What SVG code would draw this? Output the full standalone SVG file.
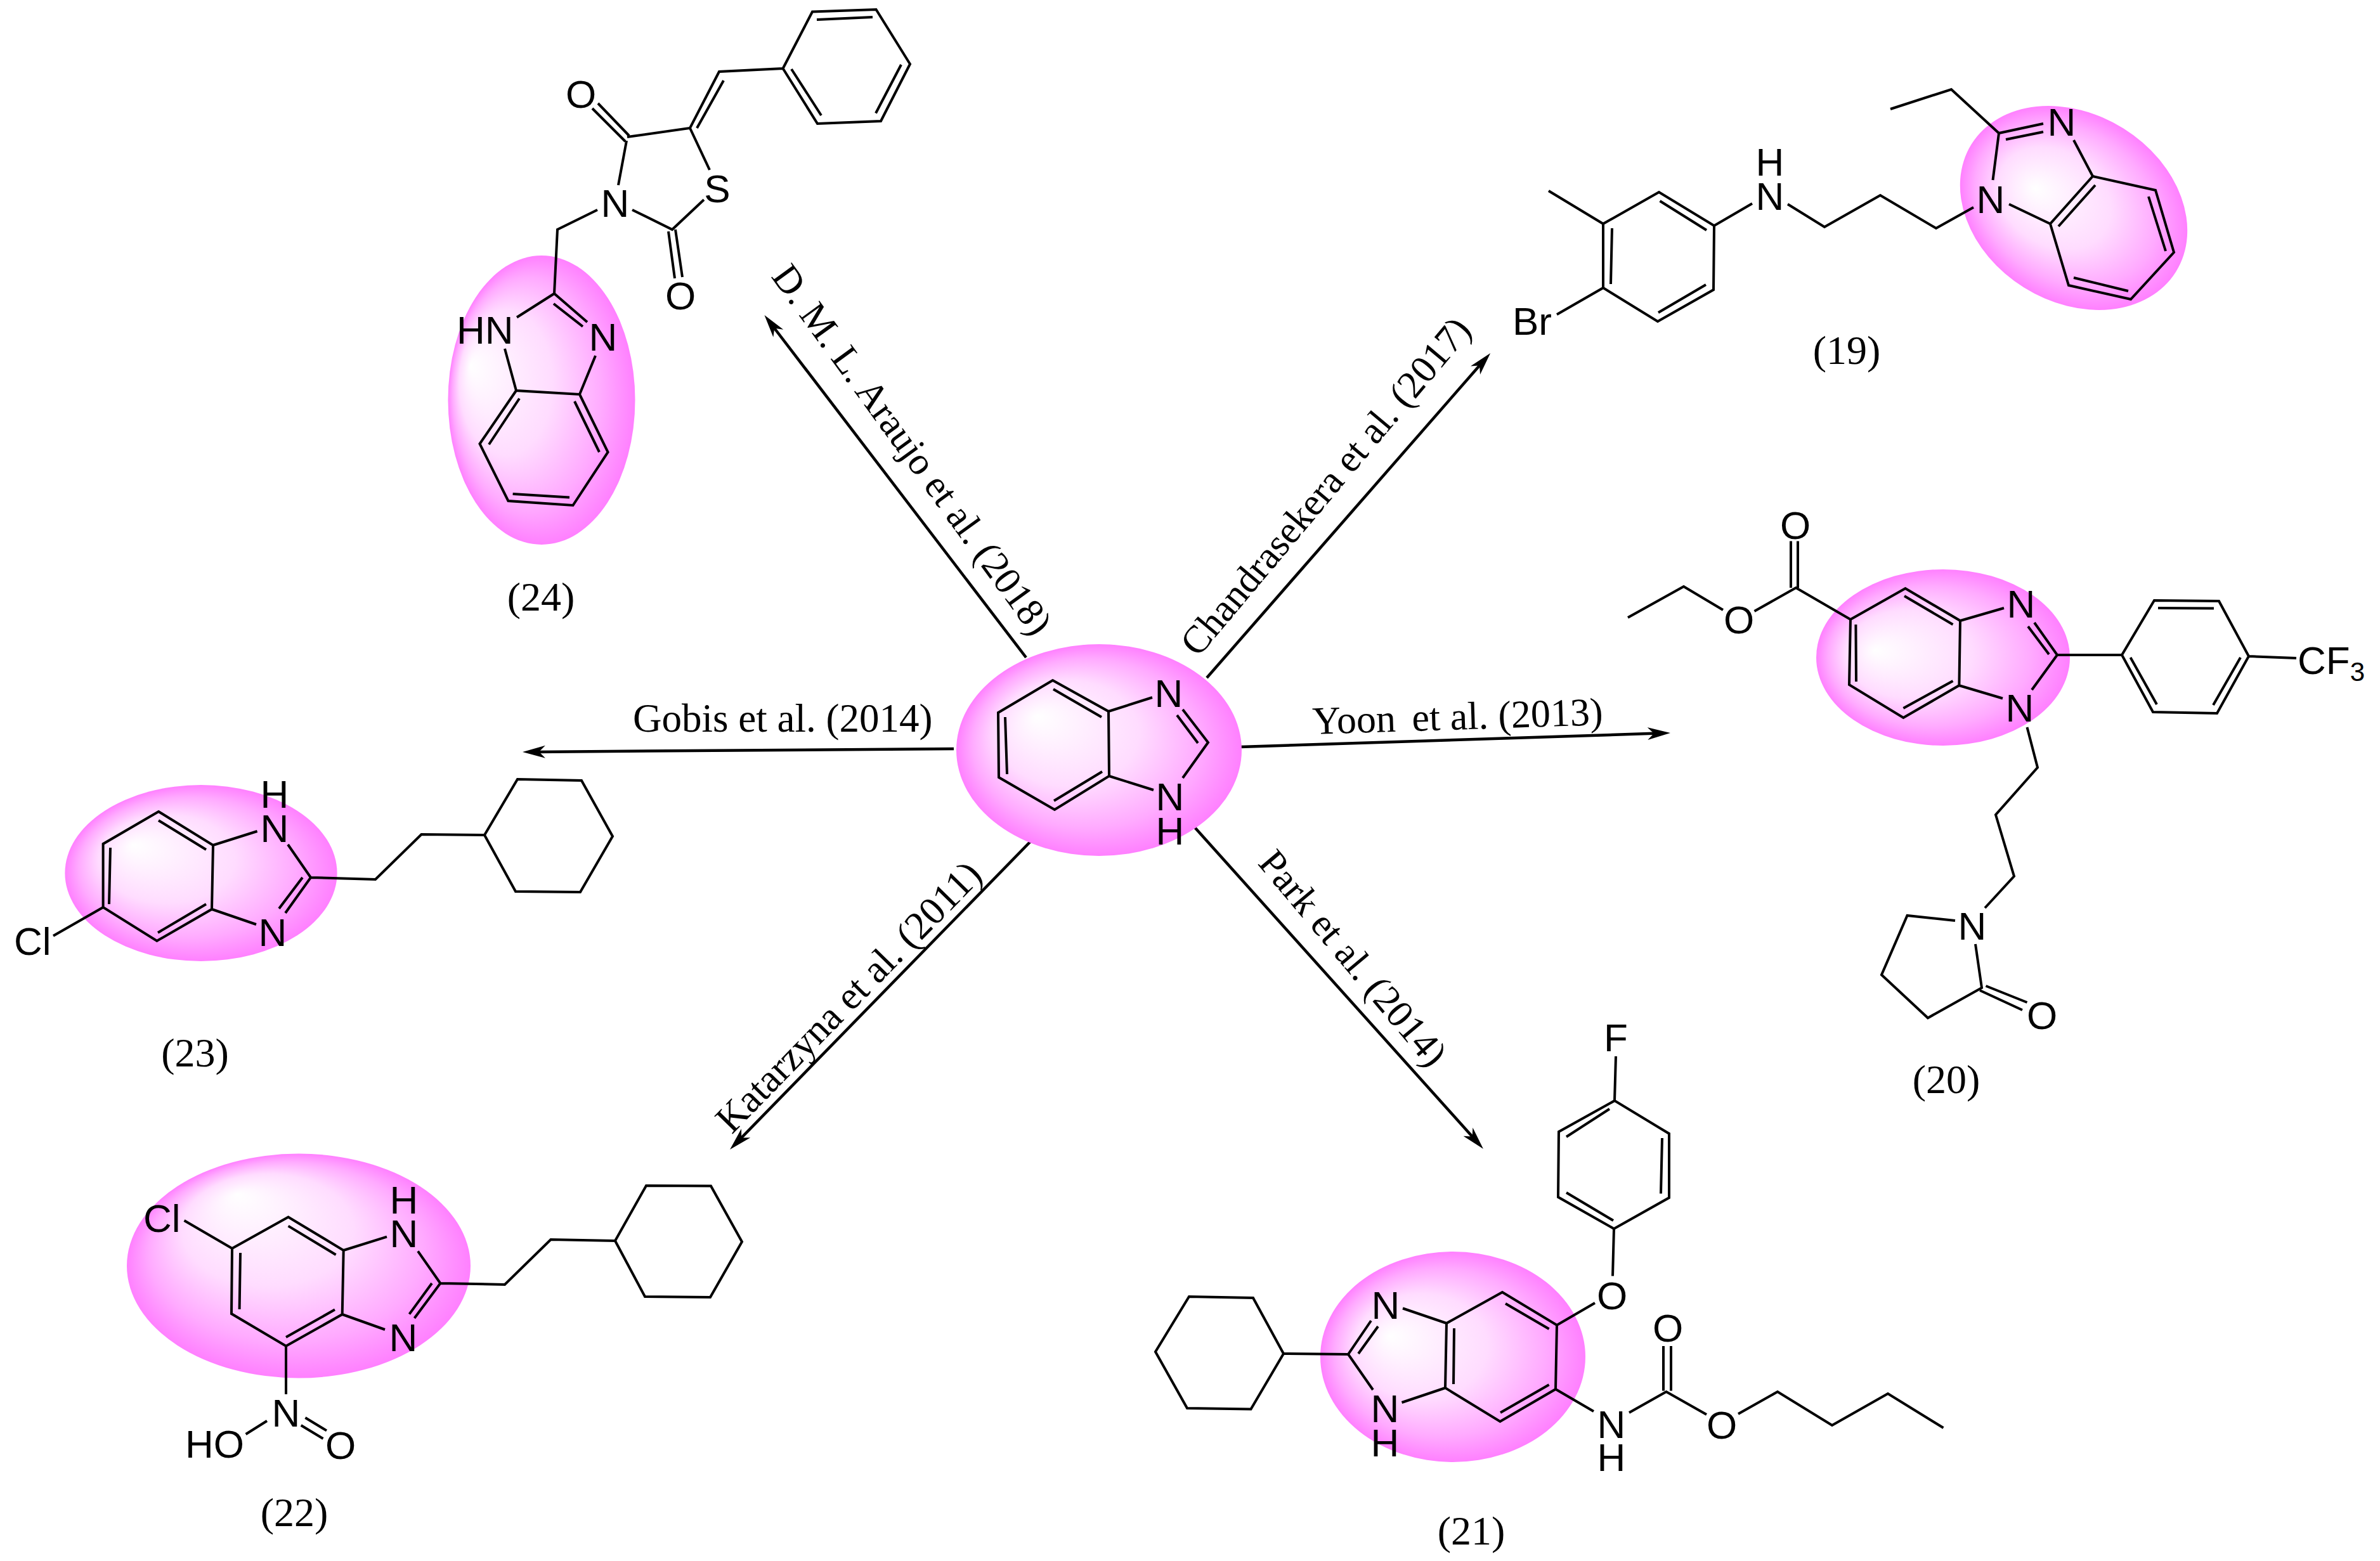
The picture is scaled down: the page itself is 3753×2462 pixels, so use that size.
<svg xmlns="http://www.w3.org/2000/svg" width="3753" height="2462" viewBox="0 0 3753 2462">
<style>
.b{fill:none;stroke:#000;stroke-width:4;stroke-linejoin:miter}
.k{fill:none;stroke:#000;stroke-width:4.5}
.a{font-family:"Liberation Sans",Arial,sans-serif;font-size:62px;fill:#000;text-anchor:middle}
.s{text-anchor:start}
.c{font-family:"Liberation Serif","Times New Roman",serif;font-size:64px;fill:#000;text-anchor:middle}
.l{font-family:"Liberation Serif","Times New Roman",serif;font-size:61px;fill:#000}
</style>
<defs>
<marker id="head" markerUnits="userSpaceOnUse" markerWidth="40" markerHeight="24" refX="16" refY="12" orient="auto"><path d="M36 12L0 2L10 12L0 22Z" fill="#000"/></marker>
<linearGradient id="st"><stop offset="0" stop-color="#fff"/><stop offset=".5" stop-color="#ffdcff"/><stop offset=".8" stop-color="#ffaaff"/><stop offset="1" stop-color="#ff80ff"/></linearGradient>
<radialGradient id="g0" href="#st" cx=".5" cy=".5" r=".5" fx=".28" fy=".34"/>
<radialGradient id="g19" href="#st" cx=".5" cy=".5" r=".5" fx=".32" fy=".52"/>
<radialGradient id="g20" href="#st" cx=".5" cy=".5" r=".5" fx=".23" fy=".46"/>
<radialGradient id="g21" href="#st" cx=".5" cy=".5" r=".5" fx=".26" fy=".4"/>
<radialGradient id="g22" href="#st" cx=".5" cy=".5" r=".5" fx=".32" fy=".18"/>
<radialGradient id="g23" href="#st" cx=".5" cy=".5" r=".5" fx=".25" fy=".34"/>
<radialGradient id="g24" href="#st" cx=".5" cy=".5" r=".5" fx=".12" fy=".38"/>
</defs>
<rect width="3753" height="2462" fill="#fff"/>
<g id="connectors">
<path class="k" marker-end="url(#head)" d="M1618 1037L1217.6 513"/>
<path class="k" marker-end="url(#head)" d="M1903 1069L2337 572"/>
<path class="k" marker-end="url(#head)" d="M1956 1178L2614 1156.6"/>
<path class="k" marker-end="url(#head)" d="M1884 1305L2325.6 1797"/>
<path class="k" marker-end="url(#head)" d="M1630 1322L1165 1798.7"/>
<path class="k" marker-end="url(#head)" d="M1504 1181L844 1185.9"/>
<text class="l" transform="translate(1215 436) rotate(54)">D. M. L. Araujo et al. (2018)</text>
<text class="l" transform="translate(1889 1038) rotate(-50)">Chandrasekera et al. (2017)</text>
<text class="l" style="font-size:62px" transform="translate(2070 1158) rotate(-1.85)">Yoon <tspan dx="10">et al. (2013)</tspan></text>
<text class="l" transform="translate(1982 1362) rotate(50)">Park et al. (2014)</text>
<text class="l" style="font-size:62px" transform="translate(1154 1790) rotate(-45.7)">Katarzyna et al. (2011)</text>
<text class="l" style="font-size:63px" x="998" y="1154">Gobis et al. (2014)</text>
</g>
<g id="core">
<ellipse cx="1733" cy="1183" rx="225" ry="167" fill="url(#g0)"/>
<path class="b" d="M1574 1124L1660 1073L1748 1122L1749 1224L1663 1277L1575 1226ZM1661 1087L1737 1131M1585 1131L1588 1221M1662 1263L1738 1217M1748 1122L1817 1100M1749 1224L1819 1246M1865 1119L1905 1171L1865 1227M1856 1128L1889 1172"/>
<text class="a" x="1843" y="1115">N</text>
<text class="a"><tspan x="1845" y="1278">N</tspan><tspan x="1845" y="1332">H</tspan></text>
</g>
<g id="mol-19">
<ellipse cx="0" cy="0" rx="190" ry="148" transform="translate(3270 328) rotate(32)" fill="url(#g19)"/>
<path class="b" d="M2981 172L3077 141L3152 210L3222 195M3163 220L3222 208M3152 210L3142.5 284M3270 221L3300 278L3399 300L3428 398L3360 472L3262 450L3233 353L3300 278M3168 322L3233 353M3304 292L3246 357M3388 310L3415 396M3270 438L3356 459M3112 327L3053 360L2965 308L2877 358L2819 322M2763 321L2703 356L2616 303L2528 353L2528 454L2614 507L2702 457L2703 356M2691 363L2617.5 317M2542 360L2540 448M2690 449L2615 493M2528 353L2442 301M2528 454L2455 496"/>
<text class="a" x="3251" y="214">N</text>
<text class="a" x="3139" y="336">N</text>
<text class="a"><tspan x="2791" y="277">H</tspan><tspan x="2791" y="331">N</tspan></text>
<text class="a s" x="2385" y="528">Br</text>
<text class="c" x="2912" y="574">(19)</text>
</g>
<g id="mol-20">
<ellipse cx="3064" cy="1037" rx="200" ry="139" fill="url(#g20)"/>
<path class="b" d="M2824 853.5L2824 927M2835 853.5L2835 927M2766.5 964L2832 927L2918 977L3004.5 928L3091 979L3089.4 1081L3001.4 1132L2916 1080L2918 977M2717 962L2655 925L2567 974M3003 940L3079.5 985M2926.4 985L2927 1075M3079.5 1074L3001.4 1117M3091 979L3160 959M3208 982L3244 1033L3204 1088M3198 988L3231 1032M3089 1081L3158 1101.5M3244 1033L3346 1033L3397 947L3499 948L3546 1035L3496 1125L3395 1123L3346 1033M3403 959L3491 959.4M3533 1037L3490 1112M3359.5 1037L3401 1111M3546 1035L3621 1038M3196.5 1147L3213 1210.5L3147 1285L3176 1382L3130 1432M3083 1452L3007.5 1444L2967 1537.5L3040 1605.5L3125 1558L3115 1489M3131.5 1555L3196.5 1581M3122 1562L3189 1593"/>
<text class="a" x="2831" y="850">O</text>
<text class="a" x="2742" y="999">O</text>
<text class="a" x="3187" y="974">N</text>
<text class="a" x="3185" y="1138">N</text>
<text class="a s" x="3623" y="1063">CF<tspan dy="11" style="font-size:42px">3</tspan></text>
<text class="a" x="3110" y="1482">N</text>
<text class="a" x="3220" y="1623">O</text>
<text class="c" x="3069" y="1724">(20)</text>
</g>
<g id="mol-21">
<ellipse cx="2291" cy="2140" rx="209" ry="166" fill="url(#g21)"/>
<path class="b" d="M2548 1666L2546 1736L2632 1788L2632 1889L2545 1938L2457 1888L2458 1785L2546 1736M2538 1749L2470 1793M2621 1795L2619 1882.5M2470 1881L2544 1925M2545 1938L2543 2012.5M2515 2055L2455 2090L2369 2038L2281 2087L2279 2189L2365.5 2242L2453 2191L2455 2090M2442.6 2096L2374 2056M2293 2095L2292 2183M2442.6 2184L2366 2228M2212 2063.5L2281 2087M2210.5 2212L2279 2189M2162 2083L2126 2136L2165 2192M2173 2092L2142 2135M2126 2136L2024 2135L1976 2047L1875 2045L1822 2132L1872 2221L1972.5 2222.6L2024 2135M2453 2191L2513 2226M2569 2228L2627.5 2195L2691 2231M2623 2193.5L2623 2123M2635 2193.5L2635 2123M2741 2230L2803 2195L2889 2248L2977 2198L3064.5 2252"/>
<text class="a" x="2548" y="1658">F</text>
<text class="a" x="2542" y="2065">O</text>
<text class="a" x="2185" y="2080">N</text>
<text class="a"><tspan x="2184" y="2243">N</tspan><tspan x="2184" y="2297">H</tspan></text>
<text class="a"><tspan x="2541" y="2268">N</tspan><tspan x="2541" y="2320">H</tspan></text>
<text class="a" x="2630" y="2116">O</text>
<text class="a" x="2715" y="2269">O</text>
<text class="c" x="2320" y="2436">(21)</text>
</g>
<g id="mol-22">
<ellipse cx="471" cy="1996.5" rx="271" ry="177" fill="url(#g22)"/>
<path class="b" d="M290.5 1925L366 1969L454.6 1919.5L541.7 1972L539.7 2073L451 2123L365 2072L366 1969M454.6 1933.6L529.6 1979M379 1976L377.6 2065M528 2065.6L451 2109M541.7 1972L610 1950.6M659 1973.4L694.4 2024L653.5 2079M681 2024L645.5 2072.6M539.7 2073L607 2097M694.4 2024L796 2026L868.5 1955L970 1957L1019 1870L1121 1870.5L1170 1958.5L1120 2046L1017 2045L970 1957M451 2123L451 2199M421 2241L387.6 2262M481.4 2236L515 2256.4M474.7 2248L509.5 2269"/>
<text class="a s" x="226" y="1943">Cl</text>
<text class="a"><tspan x="637" y="1914">H</tspan><tspan x="637" y="1967">N</tspan></text>
<text class="a" x="636" y="2131">N</text>
<text class="a" x="451" y="2250">N</text>
<text class="a s" x="292" y="2299">HO</text>
<text class="a" x="537" y="2301">O</text>
<text class="c" x="464" y="2407">(22)</text>
</g>
<g id="mol-23">
<ellipse cx="317" cy="1377" rx="214.6" ry="139" fill="url(#g23)"/>
<path class="b" d="M250 1280L336 1333L334 1434L247.4 1484L162.6 1431L162.6 1331ZM250 1294L325 1340M174 1337L172 1426M325 1426L249 1471M162.6 1431L84 1476M336 1333L405.6 1311M454 1332L490 1384L450 1440M477 1384L440 1433M334 1434L404 1458M490 1384L592 1387L664.5 1316L764 1317L816 1229L917 1231L966 1319L915 1407L813 1406L764 1317"/>
<text class="a s" x="22" y="1506">Cl</text>
<text class="a"><tspan x="433" y="1274">H</tspan><tspan x="433" y="1328">N</tspan></text>
<text class="a" x="430" y="1492">N</text>
<text class="c" x="307.5" y="1682">(23)</text>
</g>
<g id="mol-24">
<ellipse cx="854" cy="631" rx="147.5" ry="228" fill="url(#g24)"/>
<path class="b" d="M1281 18.5L1381.5 15L1435 101L1389 191L1289 195L1234.6 108ZM1288 31L1376 27M1421 102L1381 178.5M1248 109L1295 182M1234.6 108L1134 113L1088 202L989 216M1141 127L1099 202M992 214L943 163M986 223L934 171M988 222L975 292M1088 202L1119 268M1110 315L1060 362L997 331M1054 365L1064 439M1065 362L1076 437M942 331L879 362L874 463L815 500.5M874 463L926 508M873 479L919 515M796 550L814 616L914 622L939 561M814 616L756.5 700L801.4 790L903.5 797L958.6 713L914 622M906 633L945 713M819 628.5L771 701M808.6 779L898 784.5"/>
<text class="a" x="916" y="170">O</text>
<text class="a" x="970" y="342">N</text>
<text class="a" x="1131" y="319">S</text>
<text class="a" x="1073" y="488">O</text>
<text class="a s" x="720" y="542">HN</text>
<text class="a" x="951" y="553">N</text>
<text class="c" x="853" y="963">(24)</text>
</g>
</svg>
